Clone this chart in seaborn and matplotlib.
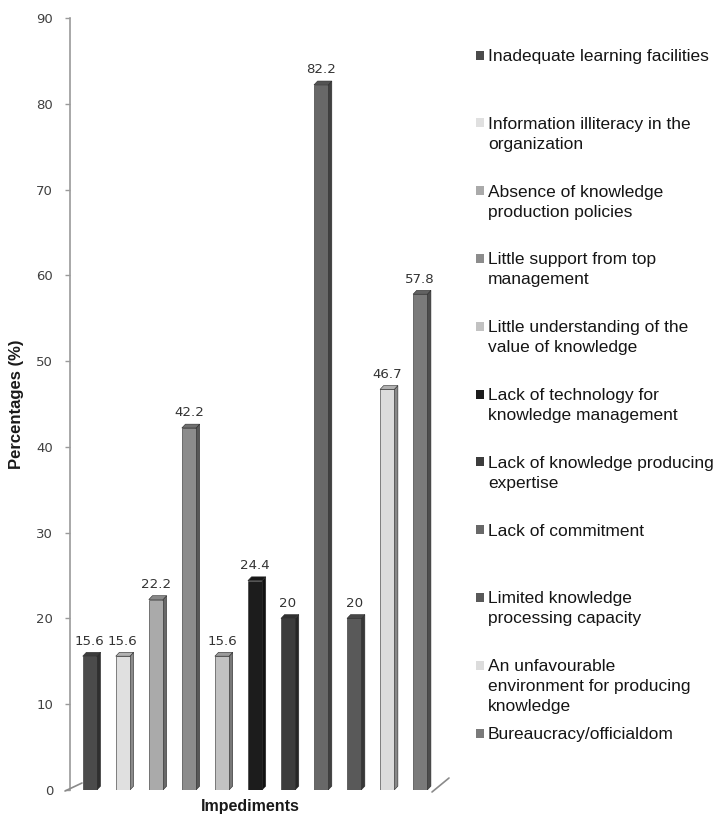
import matplotlib
matplotlib.use("Agg")
import matplotlib.pyplot as plt
import seaborn as sns
import pandas as pd
from matplotlib.patches import Polygon
from matplotlib.lines import Line2D
from matplotlib.colors import to_rgb

# Impediments to knowledge production (legend wording, line breaks as laid out)
impediments = [
    "Inadequate learning facilities",
    "Information illiteracy in the\norganization",
    "Absence of knowledge\nproduction policies",
    "Little support from top\nmanagement",
    "Little understanding of the\nvalue of knowledge",
    "Lack of technology for\nknowledge management",
    "Lack of knowledge producing\nexpertise",
    "Lack of commitment",
    "Limited knowledge\nprocessing capacity",
    "An unfavourable\nenvironment for producing\nknowledge",
    "Bureaucracy/officialdom",
]
percentages = [15.6, 15.6, 22.2, 42.2, 15.6, 24.4, 20, 82.2, 20, 46.7, 57.8]
bar_colors = ["#4b4b4b", "#e0e0e0", "#aaaaaa", "#8c8c8c", "#c2c2c2",
              "#1c1c1c", "#3c3c3c", "#686868", "#595959", "#dcdcdc", "#7a7a7a"]
y_ticks = [0, 10, 20, 30, 40, 50, 60, 70, 80, 90]

W, H = 718, 817
sns.set_theme(style="white")
plt.rcParams["font.family"] = ["DejaVu Sans"]

fig = plt.figure(figsize=(W / 100, H / 100), dpi=100)
fig.patch.set_facecolor("white")
ax = fig.add_axes([70 / W, (H - 790) / H, 370 / W, 772 / H])

df = pd.DataFrame({"impediment": impediments, "percentage": percentages})
palette = dict(zip(impediments, bar_colors))
bar_w = 0.43
sns.barplot(data=df, x="impediment", y="percentage", hue="impediment",
            palette=palette, saturation=1, width=bar_w, legend=False,
            edgecolor="#2a2a2a", linewidth=0.4, ax=ax, zorder=3)


def shade(c, f):
    r, g, b = to_rgb(c)
    return (r * f, g * f, b * f)


# Depth faces giving each column a box look
dx, dy = 0.11, 0.45
for i, (v, c) in enumerate(zip(percentages, bar_colors)):
    xr = i + bar_w / 2
    xl = i - bar_w / 2
    side = Polygon([(xr, 0), (xr + dx, dy), (xr + dx, v + dy), (xr, v)],
                   closed=True, facecolor=shade(c, 0.62), edgecolor="#2a2a2a",
                   linewidth=0.4, zorder=2)
    top = Polygon([(xl, v), (xr, v), (xr + dx, v + dy), (xl + dx, v + dy)],
                  closed=True, facecolor=shade(c, 0.8), edgecolor="#2a2a2a",
                  linewidth=0.4, zorder=4)
    ax.add_patch(side)
    ax.add_patch(top)
    ax.text(i, v + 1.0, f"{v:g}", ha="center", va="bottom",
            fontsize=9.6, color="#333333")

ax.set_xlim(-0.6, 10.6)
ax.set_ylim(0, 90)
ax.set_yticks(y_ticks)
ax.set_yticklabels([str(t) for t in y_ticks])
ax.set_xticks([])
ax.set_xlabel("")
ax.set_ylabel("")
ax.tick_params(axis="y", which="major", direction="out", length=3.6, width=1,
               color="#9a9a9a", labelsize=9.5, labelcolor="#404040", pad=8.5,
               left=True)
for s in ["top", "right", "bottom"]:
    ax.spines[s].set_visible(False)
ax.spines["left"].set_color("#9a9a9a")
ax.spines["left"].set_linewidth(1.2)
ax.set_facecolor("white")

# Floor edges of the box frame
fig.add_artist(Line2D([65 / W, 82 / W], [1 - 791 / H, 1 - 783 / H],
                      color="#8a8a8a", lw=1.2))
fig.add_artist(Line2D([432 / W, 449 / W], [1 - 792 / H, 1 - 778 / H],
                      color="#8a8a8a", lw=1.2))

# Axis titles
fig.text(17 / W, 1 - 404 / H, "Percentages (%)", rotation=90, ha="center",
         va="center", fontsize=12, fontweight="bold", color="#1a1a1a",
         family=["Liberation Sans", "DejaVu Sans"])
fig.text(250 / W, 1 - 807 / H, "Impediments", ha="center", va="center",
         fontsize=11.5, fontweight="bold", color="#1a1a1a",
         family=["Liberation Sans", "DejaVu Sans"])

# Legend column on the right
first_line_y = 55.0
entry_step = 67.8
line_step = 20.0
for k, (lab, c) in enumerate(zip(impediments, bar_colors)):
    yc = first_line_y + k * entry_step
    fig.patches.append(plt.Rectangle((476 / W, 1 - (yc + 4.5) / H), 8 / W, 9 / H,
                                     transform=fig.transFigure, facecolor=c,
                                     edgecolor="none"))
    for j, line in enumerate(lab.split("\n")):
        yb = yc + j * line_step + 6
        fig.text(488 / W, 1 - yb / H, line, ha="left", va="baseline",
                 fontsize=12.5, color="#151515",
                 family=["Liberation Sans", "DejaVu Sans"])

fig.savefig("out.png", dpi=100, facecolor="white")
